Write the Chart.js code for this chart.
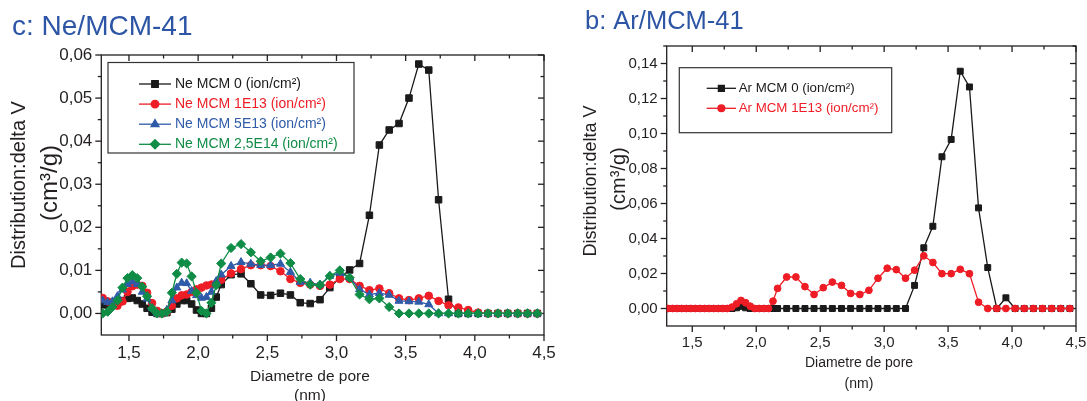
<!DOCTYPE html>
<html>
<head>
<meta charset="utf-8">
<script src="https://cdn.jsdelivr.net/npm/chart.js@4"></script>
<style>
html,body{margin:0;padding:0;background:#fff;}
#wrap{position:relative;width:1087px;height:401px;overflow:hidden;background:#fff;}
#c1{position:absolute;left:0;top:0;}
#c2{position:absolute;left:560px;top:0;}
</style>
</head>
<body>
<div id="wrap">
<canvas id="c1" width="560" height="401"></canvas>
<canvas id="c2" width="527" height="401"></canvas>
</div>
<script>
// ---------- data (pore diameter in nm, distribution in cm3/g) ----------
const poreDiameter = [1.310, 1.346, 1.381, 1.417, 1.453, 1.489, 1.524, 1.560, 1.596, 1.631,
  1.667, 1.703, 1.738, 1.774, 1.810, 1.846, 1.881, 1.917, 1.953, 1.988,
  2.024, 2.060, 2.096, 2.131, 2.167, 2.238, 2.310, 2.381, 2.452, 2.524,
  2.595, 2.667, 2.738, 2.810, 2.881, 2.952, 3.024, 3.095, 3.167, 3.238,
  3.310, 3.381, 3.452, 3.524, 3.595, 3.667, 3.738, 3.810, 3.881, 3.952,
  4.024, 4.095, 4.167, 4.238, 4.310, 4.381, 4.452];

const neMCM0 = [0.0020, 0.0020, 0.0022, 0.0025, 0.0030, 0.0035, 0.0036, 0.0030, 0.0022, 0.0012,
  0.0003, 0.0000, 0.0000, 0.0002, 0.0010, 0.0022, 0.0030, 0.0030, 0.0022, 0.0008,
  0.0000, 0.0000, 0.0012, 0.0038, 0.0067, 0.0090, 0.0092, 0.0069, 0.0043, 0.0042,
  0.0047, 0.0043, 0.0025, 0.0023, 0.0032, 0.0060, 0.0083, 0.0101, 0.0116, 0.0228,
  0.0391, 0.0426, 0.0441, 0.0500, 0.0579, 0.0565, 0.0264, 0.0033, 0.0000, 0.0000,
  0.0000, 0.0000, 0.0000, 0.0000, 0.0000, 0.0000, 0.0000];

const neMCM1E13 = [0.0036, 0.0028, 0.0022, 0.0018, 0.0028, 0.0050, 0.0063, 0.0067, 0.0064, 0.0048,
  0.0024, 0.0006, 0.0000, 0.0004, 0.0018, 0.0035, 0.0042, 0.0044, 0.0050, 0.0056,
  0.0060, 0.0065, 0.0067, 0.0070, 0.0078, 0.0093, 0.0103, 0.0112, 0.0112, 0.0110,
  0.0098, 0.0080, 0.0071, 0.0067, 0.0064, 0.0067, 0.0080, 0.0080, 0.0064, 0.0054,
  0.0058, 0.0047, 0.0035, 0.0031, 0.0035, 0.0041, 0.0029, 0.0019, 0.0014, 0.0008,
  0.0002, 0.0000, 0.0000, 0.0000, 0.0000, 0.0000, 0.0000];

const neMCM5E13 = [0.0030, 0.0026, 0.0028, 0.0040, 0.0055, 0.0068, 0.0074, 0.0068, 0.0050, 0.0034,
  0.0012, 0.0000, 0.0000, 0.0008, 0.0030, 0.0060, 0.0071, 0.0070, 0.0052, 0.0042,
  0.0036, 0.0038, 0.0050, 0.0075, 0.0090, 0.0110, 0.0119, 0.0115, 0.0112, 0.0112,
  0.0115, 0.0096, 0.0073, 0.0071, 0.0067, 0.0087, 0.0094, 0.0083, 0.0056, 0.0044,
  0.0047, 0.0043, 0.0029, 0.0028, 0.0027, 0.0021, 0.0000, 0.0000, 0.0000, 0.0000,
  0.0000, 0.0000, 0.0000, 0.0000, 0.0000, 0.0000, 0.0000];

const neMCM25E14 = [0.0000, 0.0004, 0.0015, 0.0030, 0.0060, 0.0082, 0.0089, 0.0082, 0.0062, 0.0040,
  0.0012, 0.0000, 0.0000, 0.0004, 0.0048, 0.0092, 0.0118, 0.0116, 0.0086, 0.0048,
  0.0006, 0.0000, 0.0025, 0.0066, 0.0116, 0.0152, 0.0161, 0.0142, 0.0121, 0.0130,
  0.0139, 0.0117, 0.0080, 0.0067, 0.0066, 0.0087, 0.0100, 0.0083, 0.0044, 0.0033,
  0.0035, 0.0015, 0.0000, 0.0000, 0.0000, 0.0000, 0.0000, 0.0000, 0.0000, 0.0000,
  0.0000, 0.0000, 0.0000, 0.0000, 0.0000, 0.0000, 0.0000];

const arMCM0 = [0.0000, 0.0000, 0.0000, 0.0000, 0.0000, 0.0000, 0.0000, 0.0000, 0.0000, 0.0000,
  0.0000, 0.0000, 0.0000, 0.0000, 0.0000, 0.0004, 0.0012, 0.0004, 0.0000, 0.0000,
  0.0000, 0.0000, 0.0000, 0.0000, 0.0000, 0.0000, 0.0000, 0.0000, 0.0000, 0.0000,
  0.0000, 0.0000, 0.0000, 0.0000, 0.0000, 0.0000, 0.0000, 0.0000, 0.0000, 0.0132,
  0.0347, 0.0470, 0.0867, 0.0966, 0.1356, 0.1266, 0.0575, 0.0234, 0.0000, 0.0061,
  0.0000, 0.0000, 0.0000, 0.0000, 0.0000, 0.0000, 0.0000];

const arMCM1E13 = [0.0000, 0.0000, 0.0000, 0.0000, 0.0000, 0.0000, 0.0000, 0.0000, 0.0000, 0.0000,
  0.0000, 0.0000, 0.0000, 0.0000, 0.0008, 0.0027, 0.0046, 0.0033, 0.0013, 0.0000,
  0.0000, 0.0000, 0.0000, 0.0042, 0.0115, 0.0180, 0.0180, 0.0125, 0.0080, 0.0119,
  0.0151, 0.0132, 0.0086, 0.0080, 0.0104, 0.0173, 0.0230, 0.0222, 0.0173, 0.0219,
  0.0301, 0.0263, 0.0199, 0.0199, 0.0224, 0.0199, 0.0036, 0.0000, 0.0000, 0.0000,
  0.0000, 0.0000, 0.0000, 0.0000, 0.0000, 0.0000, 0.0000];

const xTickValues = [1.5, 2.0, 2.5, 3.0, 3.5, 4.0, 4.5];
const neYTickValues = [0.00, 0.01, 0.02, 0.03, 0.04, 0.05, 0.06];
const arYTickValues = [0.00, 0.02, 0.04, 0.06, 0.08, 0.10, 0.12, 0.14];

const neLabels = ['Ne MCM 0 (ion/cm\u00B2)', 'Ne MCM 1E13 (ion/cm\u00B2)', 'Ne MCM 5E13 (ion/cm\u00B2)', 'Ne MCM 2,5E14 (ion/cm\u00B2)'];
const arLabels = ['Ar MCM 0 (ion/cm\u00B2)', 'Ar MCM 1E13 (ion/cm\u00B2)'];
const neTitle = 'c: Ne/MCM-41';
const arTitle = 'b: Ar/MCM-41';
const yTitleLines = ['Distribution:delta V', '(cm\u00B3/g)'];
const xTitleLines = ['Diametre de pore', '(nm)'];

// ---------- styling ----------
const FONT = "'Liberation Sans', Arial, Helvetica, sans-serif";
const INK = '#231f20';
const BLACK = '#1a1a1a', RED = '#ee1d25', BLUE = '#2f5ba9', GREEN = '#0f8c45';
const TITLE_BLUE = '#2d55a5';

Chart.defaults.font.family = FONT;
Chart.defaults.color = INK;

const pts = ys => ys.map((y, i) => ({x: poreDiameter[i], y: y}));
const fmt = (v, d) => Number(v).toFixed(d).replace('.', ',');
const minorOf = (arr) => arr.slice(0, -1).map((v, i) => (v + arr[i + 1]) / 2);

function series(label, data, color, style, radius, order) {
  return {
    label: label, data: pts(data), borderColor: color, backgroundColor: color,
    pointBackgroundColor: color, pointBorderColor: color, pointBorderWidth: 1,
    pointStyle: style, pointRadius: radius, borderWidth: 1.3, tension: 0, order: order
  };
}

// frame with Origin-style ticks (out on left/bottom, in on top/right)
const axesFrame = {
  id: 'axesFrame',
  beforeDatasetsDraw(chart, args, o) {
    const {ctx, chartArea: a} = chart;
    const xs = chart.scales.x, ys = chart.scales.y;
    ctx.save();
    ctx.strokeStyle = INK;
    ctx.lineWidth = o.lineWidth;
    ctx.strokeRect(a.left, a.top, a.right - a.left, a.bottom - a.top);
    const seg = (x1, y1, x2, y2) => { ctx.beginPath(); ctx.moveTo(x1, y1); ctx.lineTo(x2, y2); ctx.stroke(); };
    const xt = (vals, L) => vals.forEach(v => {
      const p = xs.getPixelForValue(v);
      if (p < a.left - 0.5 || p > a.right + 0.5) return;
      seg(p, a.bottom, p, a.bottom + L); seg(p, a.top, p, a.top + L);
    });
    const yt = (vals, L) => vals.forEach(v => {
      const p = ys.getPixelForValue(v);
      if (p < a.top - 0.5 || p > a.bottom + 0.5) return;
      seg(a.left - L, p, a.left, p); seg(a.right - L, p, a.right, p);
    });
    xt(o.xMajor, o.major); xt(o.xMinor, o.minor);
    yt(o.yMajor, o.major); yt(o.yMinor, o.minor);
    ctx.restore();
  }
};

const boxLegend = {
  id: 'boxLegend',
  afterDraw(chart, args, o) {
    const ctx = chart.ctx;
    ctx.save();
    ctx.lineWidth = 1.2; ctx.strokeStyle = '#333';
    ctx.strokeRect(o.x, o.y, o.w, o.h);
    ctx.font = o.font; ctx.textBaseline = 'middle'; ctx.textAlign = 'left';
    chart.data.datasets.forEach((ds, i) => {
      const yy = o.rowY + i * o.rowGap;
      ctx.strokeStyle = ds.borderColor; ctx.lineWidth = ds.borderWidth;
      ctx.beginPath(); ctx.moveTo(o.lineX1, yy); ctx.lineTo(o.lineX2, yy); ctx.stroke();
      ctx.fillStyle = ds.pointBackgroundColor; ctx.strokeStyle = ds.pointBorderColor;
      Chart.helpers.drawPoint(ctx, {pointStyle: ds.pointStyle, radius: ds.pointRadius, borderWidth: 1, rotation: 0}, (o.lineX1 + o.lineX2) / 2, yy);
      ctx.fillStyle = ds.borderColor;
      ctx.fillText(ds.label, o.textX, yy);
    });
    ctx.restore();
  }
};

const axisTitles = {
  id: 'axisTitles',
  afterDraw(chart, args, o) {
    const ctx = chart.ctx;
    ctx.save();
    ctx.fillStyle = INK; ctx.textAlign = 'center'; ctx.textBaseline = 'middle';
    yTitleLines.forEach((t, i) => {
      ctx.font = o.yFonts[i];
      ctx.save(); ctx.translate(o.yX[i], o.yY[i]); ctx.rotate(-Math.PI / 2); ctx.fillText(t, 0, 0); ctx.restore();
    });
    ctx.font = o.xFont;
    xTitleLines.forEach((t, i) => ctx.fillText(t, o.xX, o.xY[i]));
    ctx.restore();
  }
};

function makeChart(canvasId, cfg) {
  return new Chart(document.getElementById(canvasId), {
    type: 'line',
    data: {datasets: cfg.datasets},
    plugins: [axesFrame, boxLegend, axisTitles],
    options: {
      responsive: false, animation: false, events: [],
      layout: {padding: {left: cfg.padLeft, right: cfg.padRight, top: 0, bottom: 0}},
      plugins: {
        legend: {display: false}, tooltip: {enabled: false},
        title: {display: true, text: cfg.title, align: 'start', color: TITLE_BLUE,
          font: {size: cfg.titleSize, weight: 'normal', lineHeight: 1.2},
          padding: {top: cfg.titlePadTop, bottom: cfg.titlePadBottom}},
        axesFrame: {lineWidth: 1.3, major: 6, minor: 3.5,
          xMajor: xTickValues, xMinor: minorOf([1.0].concat(xTickValues)),
          yMajor: cfg.yTicks, yMinor: minorOf(cfg.yTicks.concat([cfg.yTicks[cfg.yTicks.length - 1] + (cfg.yTicks[1] - cfg.yTicks[0])]))},
        boxLegend: cfg.legend,
        axisTitles: cfg.axisTitles
      },
      scales: {
        x: {
          type: 'linear', min: 1.3, max: 4.5,
          grid: {display: false, drawTicks: false}, border: {display: false},
          ticks: {font: {size: cfg.tickSize}, color: INK, padding: cfg.xTickPad, maxRotation: 0,
            callback: v => fmt(v, 1)},
          afterBuildTicks: s => { s.ticks = xTickValues.map(v => ({value: v})); },
          afterFit: s => { s.height = cfg.xHeight; s.paddingLeft = 0; s.paddingRight = 0; }
        },
        y: {
          type: 'linear', min: cfg.yMin, max: cfg.yMax,
          grid: {display: false, drawTicks: false}, border: {display: false},
          ticks: {font: {size: cfg.tickSize}, color: INK, padding: cfg.yTickPad,
            callback: v => fmt(v, 2)},
          afterBuildTicks: s => { s.ticks = cfg.yTicks.map(v => ({value: v})); },
          afterFit: s => { s.width = cfg.yWidth; s.paddingTop = 0; s.paddingBottom = 0; }
        }
      }
    }
  });
}

// ---------- left panel: Ne / MCM-41 ----------
makeChart('c1', {
  title: neTitle, titleSize: 28, titlePadTop: 10, titlePadBottom: 11.4,
  padLeft: 12, padRight: 16, yWidth: 89.3, xHeight: 66,
  yMin: -0.005, yMax: 0.06, yTicks: neYTickValues,
  tickSize: 17, xTickPad: 8, yTickPad: 9,
  datasets: [
    series(neLabels[0], neMCM0, BLACK, 'rect', 4.6, 4),
    series(neLabels[1], neMCM1E13, RED, 'circle', 3.8, 3),
    series(neLabels[2], neMCM5E13, BLUE, 'triangle', 4.6, 2),
    series(neLabels[3], neMCM25E14, GREEN, 'rectRot', 4.6, 1)
  ],
  legend: {x: 108, y: 62.5, w: 246, h: 90.5, rowY: 84, rowGap: 20.1, lineX1: 139, lineX2: 171, textX: 175,
    font: '14px ' + FONT},
  axisTitles: {yFonts: ['20px ' + FONT, '24px ' + FONT], yX: [19, 50], yY: [185, 183], xFont: '15.5px ' + FONT, xX: 310, xY: [377, 396]}
});

// ---------- right panel: Ar / MCM-41 ----------
makeChart('c2', {
  title: arTitle, titleSize: 25.5, titlePadTop: 6.7, titlePadBottom: 8.7,
  padLeft: 25, padRight: 11, yWidth: 81.7, xHeight: 75,
  yMin: -0.01, yMax: 0.15, yTicks: arYTickValues,
  tickSize: 15, xTickPad: 8, yTickPad: 9,
  datasets: [
    series(arLabels[0], arMCM0, BLACK, 'rect', 4.2, 2),
    series(arLabels[1], arMCM1E13, RED, 'circle', 3.4, 1)
  ],
  legend: {x: 119.3, y: 67.7, w: 212.4, h: 65, rowY: 88.3, rowGap: 20, lineX1: 146.7, lineX2: 176, textX: 178.7,
    font: '13.3px ' + FONT},
  axisTitles: {yFonts: ['18px ' + FONT, '20px ' + FONT], yX: [31, 59], yY: [181, 179], xFont: '14px ' + FONT, xX: 299, xY: [363, 384]}
});
</script>
</body>
</html>
